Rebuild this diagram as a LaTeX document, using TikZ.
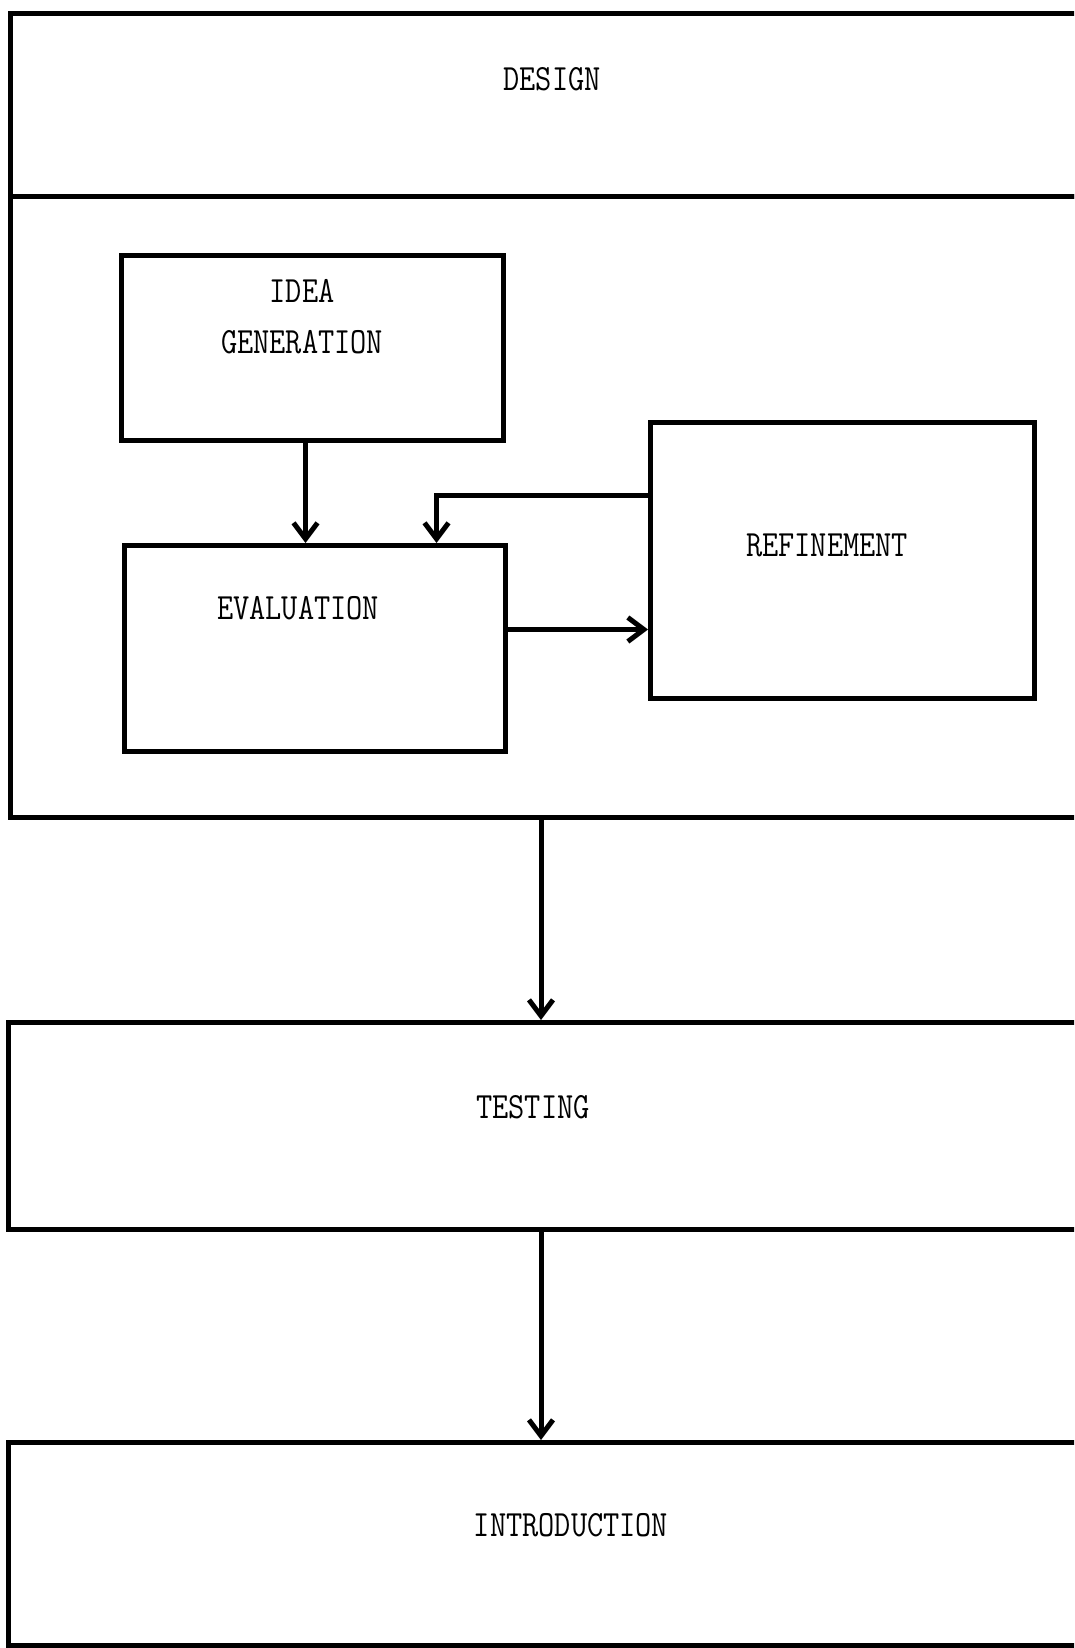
\documentclass[tikz,border=0pt]{standalone}
\usetikzlibrary{arrows.meta,calc}
\begin{document}
\begin{tikzpicture}[x=1pt,y=-1pt,
  box/.style={draw,line width=5pt,rectangle,inner sep=0pt,anchor=north west},
  lbl/.style={font=\fontsize{37}{51}\selectfont\ttfamily,xscale=0.85,transform shape,inner sep=0pt,align=center},
  arr/.style={line width=5pt,-{Straight Barb[length=16pt,width=24pt,line width=5pt]}}]
\useasboundingbox (0,0) rectangle (1074,1648);
\clip (0,0) rectangle (1074,1648);
% big boxes (right edge runs off the page)
\node[box,minimum width=1100pt,minimum height=183pt] (header) at (8,11) {};
\node[box,minimum width=1100pt,minimum height=621pt] (body) at (8,194) {};
\node[box,minimum width=1100pt,minimum height=207pt] (testing) at (6,1020) {};
\node[box,minimum width=1100pt,minimum height=203pt] (intro) at (6,1440) {};
% inner boxes
\node[box,minimum width=382pt,minimum height=185pt] (idea) at (119,253) {};
\node[box,minimum width=381pt,minimum height=206pt] (eval) at (122,543) {};
\node[box,minimum width=384pt,minimum height=276pt] (ref) at (648,420) {};
% labels
\node[lbl] (tdesign) at (552,79) {DESIGN};
\node[lbl] (tidea) at (302,316.5) {IDEA\\GENERATION};
\node[lbl] (teval) at (298,608) {EVALUATION};
\node[lbl] (tref) at (827,545) {REFINEMENT};
\node[lbl] (ttest) at (533,1107) {TESTING};
\node[lbl] (tintro) at (571,1525) {INTRODUCTION};
% connectors
\coordinate (ax) at (541,0);
\draw[arr] ([xshift=-7pt]idea.south) -- ([xshift=-7pt]idea.south |- eval.north);
\draw[arr] ([yshift=65pt]ref.west) -| ([xshift=121.5pt]eval.north);
\draw[arr] ([yshift=19pt]eval.east) -- ([yshift=19pt]eval.east -| ref.west);
\draw[arr] (body.south -| ax) -- (testing.north -| ax);
\draw[arr] (testing.south -| ax) -- (intro.north -| ax);
\end{tikzpicture}
\end{document}
